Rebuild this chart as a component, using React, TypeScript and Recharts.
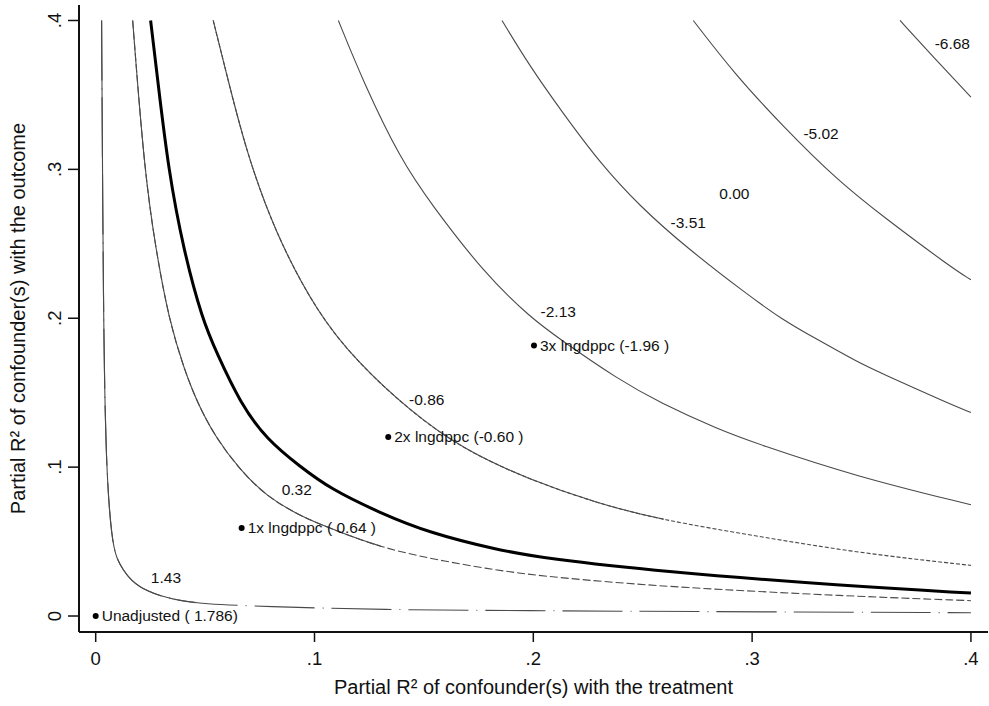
import React from "react";
import { ComposedChart, Line, Scatter, XAxis, YAxis } from "recharts";

const xTicks = [0, 0.1, 0.2, 0.3, 0.4];
const yTicks = [0, 0.1, 0.2, 0.3, 0.4];

// contour lines of the adjusted estimate
const c143 = [
  { x: 0.0027, y: 0.4 }, { x: 0.0035, y: 0.199 }, { x: 0.0047, y: 0.1 }, { x: 0.0073, y: 0.0512 },
  { x: 0.0097, y: 0.0378 }, { x: 0.0126, y: 0.0311 }, { x: 0.0157, y: 0.0244 }, { x: 0.0233, y: 0.0163 },
  { x: 0.0355, y: 0.0109 }, { x: 0.049, y: 0.0081 }, { x: 0.0765, y: 0.0064 }, { x: 0.13, y: 0.0042 },
  { x: 0.1985, y: 0.0036 }, { x: 0.267, y: 0.003 }, { x: 0.4, y: 0.0022 },
];
const c032 = [
  { x: 0.0169, y: 0.4 }, { x: 0.0222, y: 0.2996 }, { x: 0.0275, y: 0.2459 }, { x: 0.0335, y: 0.1989 },
  { x: 0.0405, y: 0.1654 }, { x: 0.0465, y: 0.1432 }, { x: 0.0545, y: 0.1206 }, { x: 0.066, y: 0.098 },
  { x: 0.0782, y: 0.0803 }, { x: 0.0925, y: 0.068 }, { x: 0.105, y: 0.0601 }, { x: 0.13, y: 0.0459 },
  { x: 0.159, y: 0.0367 }, { x: 0.1909, y: 0.0289 }, { x: 0.2213, y: 0.0244 }, { x: 0.2655, y: 0.0192 },
  { x: 0.3432, y: 0.0134 }, { x: 0.4, y: 0.0103 },
];
const c000 = [
  { x: 0.0251, y: 0.4 }, { x: 0.0285, y: 0.358 }, { x: 0.0332, y: 0.3 }, { x: 0.0401, y: 0.246 },
  { x: 0.0488, y: 0.1989 }, { x: 0.0553, y: 0.1768 }, { x: 0.066, y: 0.1432 }, { x: 0.0782, y: 0.1184 },
  { x: 0.0934, y: 0.1004 }, { x: 0.1071, y: 0.0855 }, { x: 0.13, y: 0.0692 }, { x: 0.1528, y: 0.0557 },
  { x: 0.1833, y: 0.0445 }, { x: 0.2061, y: 0.0385 }, { x: 0.2579, y: 0.0299 }, { x: 0.3432, y: 0.0201 },
  { x: 0.4, y: 0.0154 },
];
const cm086 = [
  { x: 0.0537, y: 0.4 }, { x: 0.059, y: 0.369 }, { x: 0.0685, y: 0.3131 }, { x: 0.082, y: 0.2573 },
  { x: 0.1012, y: 0.2036 }, { x: 0.12, y: 0.1699 }, { x: 0.143, y: 0.1385 }, { x: 0.168, y: 0.1117 },
  { x: 0.1985, y: 0.0915 }, { x: 0.229, y: 0.0759 }, { x: 0.2579, y: 0.0647 }, { x: 0.3032, y: 0.0534 },
  { x: 0.3489, y: 0.0423 }, { x: 0.4, y: 0.034 },
];
const cm213 = [
  { x: 0.1109, y: 0.4 }, { x: 0.1225, y: 0.358 }, { x: 0.1395, y: 0.3063 }, { x: 0.153, y: 0.2773 },
  { x: 0.1775, y: 0.2303 }, { x: 0.1988, y: 0.2003 }, { x: 0.2125, y: 0.1856 }, { x: 0.239, y: 0.1587 },
  { x: 0.258, y: 0.1432 }, { x: 0.285, y: 0.1251 }, { x: 0.3015, y: 0.1161 }, { x: 0.3475, y: 0.0937 },
  { x: 0.4, y: 0.0747 },
];
const cm351 = [
  { x: 0.1857, y: 0.4 }, { x: 0.1985, y: 0.369 }, { x: 0.2125, y: 0.3399 }, { x: 0.2305, y: 0.3041 },
  { x: 0.249, y: 0.2748 }, { x: 0.2695, y: 0.2481 }, { x: 0.297, y: 0.2168 }, { x: 0.314, y: 0.1989 },
  { x: 0.3285, y: 0.1868 }, { x: 0.349, y: 0.1699 }, { x: 0.359, y: 0.1631 }, { x: 0.3895, y: 0.143 },
  { x: 0.4, y: 0.1367 },
];
const cm502 = [
  { x: 0.2731, y: 0.4 }, { x: 0.2917, y: 0.3646 }, { x: 0.3142, y: 0.3287 }, { x: 0.3388, y: 0.2929 },
  { x: 0.3598, y: 0.2683 }, { x: 0.3905, y: 0.2347 }, { x: 0.4, y: 0.2258 },
];
const cm668 = [
  { x: 0.3676, y: 0.4 }, { x: 0.3828, y: 0.3755 }, { x: 0.4, y: 0.3486 },
];

const contourLabels = [
  { x: 0.0321, y: 0.0255, text: "1.43" },
  { x: 0.0919, y: 0.0848, text: "0.32" },
  { x: 0.1513, y: 0.1452, text: "-0.86" },
  { x: 0.2114, y: 0.2045, text: "-2.13" },
  { x: 0.2708, y: 0.2642, text: "-3.51" },
  { x: 0.2919, y: 0.284, text: "0.00" },
  { x: 0.3315, y: 0.3243, text: "-5.02" },
  { x: 0.3915, y: 0.3847, text: "-6.68" },
];

const benchmarks = [
  { x: 0, y: 0, text: "Unadjusted ( 1.786)" },
  { x: 0.0667, y: 0.0591, text: "1x lngdppc ( 0.64 )" },
  { x: 0.1337, y: 0.1202, text: "2x lngdppc (-0.60 )" },
  { x: 0.2003, y: 0.1817, text: "3x lngdppc (-1.96 )" },
];

const FONT = "'Liberation Sans', Arial, Helvetica, sans-serif";

const fmtTick = (v: number) => (v === 0 ? "0" : "." + Math.round(v * 10));

const YTick = (props: any) => {
  const { y, payload } = props;
  return (
    <text
      transform={`translate(61,${y}) rotate(-90)`}
      textAnchor="middle"
      fontSize={18.5}
      fontFamily={FONT}
      fill="#111"
    >
      {fmtTick(payload.value)}
    </text>
  );
};

const thin = { stroke: "#4a4a4a", strokeWidth: 1.1 };

// a contour: dashed over its whole length, with a solid overlay on the steep part
// (solid = share of the path length drawn solid, via pathLength=1)
const contour = (key: string, data: any[], dash?: string, solid?: number) => {
  const out = [
    <Line
      key={key}
      data={data}
      dataKey="y"
      type="basis"
      dot={false}
      activeDot={false}
      isAnimationActive={false}
      {...thin}
      strokeDasharray={dash}
    />,
  ];
  if (dash && solid) {
    out.push(
      <Line
        key={key + "s"}
        data={data}
        dataKey="y"
        type="basis"
        dot={false}
        activeDot={false}
        isAnimationActive={false}
        {...thin}
        pathLength={1}
        strokeDasharray={`${solid} 2`}
      />
    );
  }
  return out;
};

const App = () => {
  return (
    <div style={{ position: "absolute", left: 0, top: 0, background: "#fff" }}>
      <ComposedChart
        width={989}
        height={706}
        margin={{ top: 5, right: 1, bottom: 0, left: 0 }}
        style={{ fontFamily: FONT }}
      >
        <XAxis
          type="number"
          dataKey="x"
          domain={[-0.00763, 0.4078]}
          ticks={xTicks}
          allowDataOverflow
          height={74}
          tickSize={10}
          tickMargin={10}
          tickFormatter={fmtTick}
          tick={{ fontSize: 18.5, fill: "#111", fontFamily: FONT }}
          axisLine={{ stroke: "#111", strokeWidth: 2 }}
          tickLine={{ stroke: "#111", strokeWidth: 1.5 }}
          label={{
            value: "Partial R² of confounder(s) with the treatment",
            position: "insideBottom",
            offset: 12,
            fontSize: 20,
            fill: "#111",
            fontFamily: FONT,
          }}
        />
        <YAxis
          type="number"
          dataKey="y"
          domain={[-0.01074, 0.4104]}
          ticks={yTicks}
          allowDataOverflow
          width={79}
          tickSize={11}
          tick={<YTick />}
          axisLine={{ stroke: "#111", strokeWidth: 2 }}
          tickLine={{ stroke: "#111", strokeWidth: 1.5 }}
          label={{
            content: (p: any) => {
              const vb = p.viewBox;
              return (
                <text
                  transform={`translate(25,${vb.y + vb.height / 2}) rotate(-90)`}
                  textAnchor="middle"
                  fontSize={20}
                  fontFamily={FONT}
                  fill="#111"
                >
                  Partial R² of confounder(s) with the outcome
                </text>
              );
            },
          }}
        />
        {contour("a", c143, "60 8 1 8", 0.45)}
        {contour("b", c032, "8 3", 0.515)}
        <Line data={c000} dataKey="y" type="basis" dot={false} activeDot={false} isAnimationActive={false} stroke="#000" strokeWidth={3} />
        {contour("c", cm086, "4 2", 0.7)}
        {contour("d", cm213)}
        {contour("e", cm351)}
        {contour("f", cm502)}
        {contour("g", cm668)}
        <Scatter
          data={contourLabels}
          isAnimationActive={false}
          shape={(p: any) => (
            <text x={p.cx} y={p.cy} dy="0.35em" textAnchor="middle" fontSize={15.5} fontFamily={FONT} fill="#111">
              {p.payload.text}
            </text>
          )}
        />
        <Scatter
          data={benchmarks}
          isAnimationActive={false}
          shape={(p: any) => (
            <g>
              <circle cx={p.cx} cy={p.cy} r={3} fill="#000" />
              <text x={p.cx + 6} y={p.cy} dy="0.35em" fontSize={15.5} fontFamily={FONT} fill="#111">
                {p.payload.text}
              </text>
            </g>
          )}
        />
      </ComposedChart>
    </div>
  );
};

export default App;
